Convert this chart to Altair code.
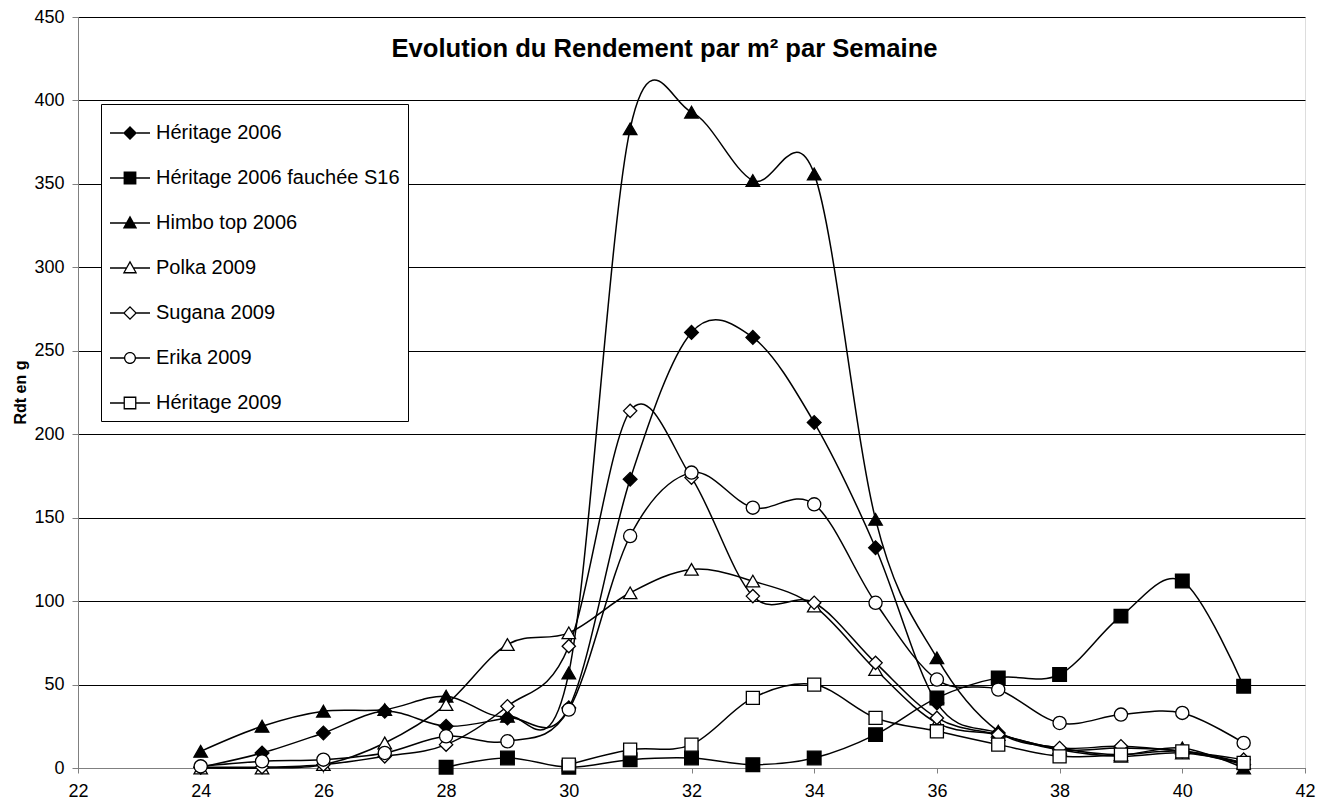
import altair as alt
import pandas as pd

weeks = list(range(24, 42))

series_names = [
    "Héritage 2006",
    "Héritage 2006 fauchée S16",
    "Himbo top 2006",
    "Polka 2009",
    "Sugana 2009",
    "Erika 2009",
    "Héritage 2009",
]

heritage_2006 = [0.5, 9, 21, 34, 25, 30, 36, 173, 261, 258, 207, 132, 39, 21, 11, 12, 10, 2]
heritage_2006_fauchee = [None, None, None, None, 0.5, 6, 0.5, 5, 6, 2, 6, 20, 42, 54, 56, 91, 112, 49]
himbo_top_2006 = [10, 25, 34, 35, 43, 31, 57, 383, 393, 352, 356, 149, 66, 22, 12, 8, 12, 0]
polka_2009 = [0, 0, 2, 15, 38, 74, 81, 105, 119, 112, 97, 59, 27, 20, 11, 7, 9, 3]
sugana_2009 = [0.5, 0.5, 2, 7, 14, 37, 73, 214, 174, 103, 99, 63, 30, 20, 12, 13, 10, 5]
erika_2009 = [1, 4, 5, 9, 19, 16, 35, 139, 177, 156, 158, 99, 53, 47, 27, 32, 33, 15]
heritage_2009 = [None, None, None, None, None, None, 2, 11, 14, 42, 50, 30, 22, 14, 7, 8, 10, 3]

all_series = [heritage_2006, heritage_2006_fauchee, himbo_top_2006, polka_2009,
              sugana_2009, erika_2009, heritage_2009]

rows = []
for name, vals in zip(series_names, all_series):
    for w, v in zip(weeks, vals):
        if v is not None:
            rows.append({"week": w, "value": v, "series": name})
df = pd.DataFrame(rows)

shapes = ["diamond", "square", "triangle-up", "triangle-up", "diamond", "circle", "square"]
sizes = [190, 170, 215, 215, 190, 150, 170]
fills = ["black", "black", "black", "white", "white", "white", "white"]


# legend glyphs: a line stub on each side of the marker, outlines drawn as filled rings
def stubs(e):
    return (f"M-1,-0.04H-{e}V0.04H-1Z"
            f"M{e},-0.04H1V0.04H{e}Z")


DIA = "M0,-0.35L0.35,0L0,0.35L-0.35,0Z"
DIA_IN = "M0,-0.26L-0.26,0L0,0.26L0.26,0Z"
SQ = "M-0.32,-0.32H0.32V0.32H-0.32Z"
SQ_IN = "M-0.255,-0.255V0.255H0.255V-0.255Z"
TRI = "M0,-0.37L0.36,0.27H-0.36Z"
TRI_IN = "M0,-0.237L-0.249,0.205H0.249Z"
CIR = "M0.3,0A0.3,0.3,0,1,1,-0.3,0A0.3,0.3,0,1,1,0.3,0Z"
CIR_IN = "M0.235,0A0.235,0.235,0,1,0,-0.235,0A0.235,0.235,0,1,0,0.235,0Z"

legend_paths = [
    stubs(0.33) + DIA,
    stubs(0.3) + SQ,
    stubs(0.19) + TRI,
    stubs(0.19) + TRI + TRI_IN,
    stubs(0.32) + DIA + DIA_IN,
    stubs(0.28) + CIR + CIR_IN,
    stubs(0.3) + SQ + SQ_IN,
]

FONT = "Liberation Sans"

x_enc = alt.X("week:Q", scale=alt.Scale(domain=[22, 42], nice=False, zero=False),
              axis=alt.Axis(values=list(range(22, 43, 2)), title=None, grid=False,
                            labelFontSize=18, labelFont=FONT, labelColor="black",
                            domainColor="#808080", tickColor="#808080", tickSize=5,
                            labelPadding=9, labelFlush=False))
y_enc = alt.Y("value:Q", scale=alt.Scale(domain=[0, 450], nice=False),
              axis=alt.Axis(values=list(range(0, 451, 50)), title="Rdt en g",
                            grid=True, gridColor="black", gridWidth=1,
                            labelFontSize=18, labelFont=FONT, labelColor="black",
                            domainColor="#808080", tickColor="#808080", tickSize=6,
                            labelPadding=8, labelFlush=False,
                            titleFont=FONT, titleFontSize=16, titleFontWeight="bold",
                            titleColor="black", titleX=-58, titleY=375,
                            titleAngle=270, titleAlign="center", titleBaseline="middle"))

base = alt.Chart(df)

lines = base.mark_line(interpolate="cardinal", color="black", strokeWidth=1.5).encode(
    x=x_enc, y=y_enc, detail="series:N", order="week:Q"
)

points = base.mark_point(filled=False, stroke="black", strokeWidth=1.3, opacity=1).encode(
    x=x_enc, y=y_enc,
    shape=alt.Shape("series:N", scale=alt.Scale(domain=series_names, range=shapes), legend=None),
    fill=alt.Fill("series:N", scale=alt.Scale(domain=series_names, range=fills), legend=None),
    size=alt.Size("series:N", scale=alt.Scale(domain=series_names, range=sizes), legend=None),
)

leg = alt.Legend(
    title=None, orient="none", legendX=23, legendY=87,
    direction="vertical",
    labelFont=FONT, labelFontSize=20, labelColor="black", labelOffset=5,
    labelLimit=400,
    symbolSize=1600, symbolFillColor="black",
    rowPadding=14, padding=8,
    strokeColor="black", fillColor="white",
)

legend_layer = base.transform_filter("datum.week > 1000").mark_point(
    filled=True, color="black", opacity=1
).encode(
    x=x_enc, y=y_enc,
    shape=alt.Shape("series:N", scale=alt.Scale(domain=series_names, range=legend_paths), legend=leg),
)

chart = alt.layer(lines, points, legend_layer).resolve_scale(
    shape="independent", fill="independent", size="independent"
).properties(
    width=1227, height=751,
    autosize=alt.AutoSizeParams(type="none"),
    padding={"left": 70, "top": 9, "right": 15, "bottom": 35},
    title=alt.TitleParams(
        "Evolution du Rendement par m² par Semaine",
        font=FONT, fontSize=25.6, fontWeight="bold", color="black",
        anchor="middle", frame="group", offset=0, dx=-27, dy=75,
        baseline="alphabetic",
    ),
).configure_view(stroke="#808080", strokeWidth=1).configure(background="white")

chart.save("out.html", embed_options={"renderer": "svg", "actions": False})
